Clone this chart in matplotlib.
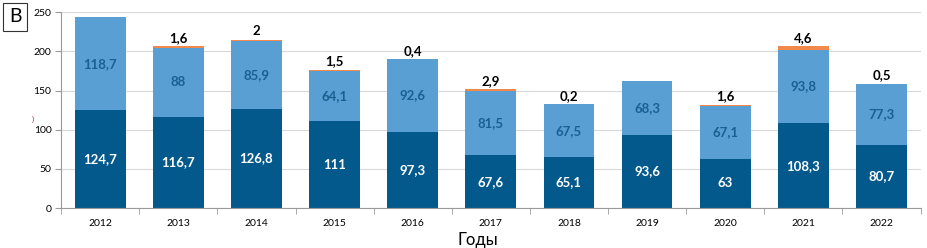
import numpy as np
import matplotlib
matplotlib.use('Agg')
import matplotlib.pyplot as plt
from matplotlib.ticker import FixedLocator

plt.rcParams['font.family'] = ['Lato', 'DejaVu Sans']

years = ['2012', '2013', '2014', '2015', '2016', '2017', '2018', '2019', '2020', '2021', '2022']
bottom_vals = [124.7, 116.7, 126.8, 111, 97.3, 67.6, 65.1, 93.6, 63, 108.3, 80.7]
middle_vals = [118.7, 88, 85.9, 64.1, 92.6, 81.5, 67.5, 68.3, 67.1, 93.8, 77.3]
top_vals = [0, 1.6, 2, 1.5, 0.4, 2.9, 0.2, 0, 1.6, 4.6, 0.5]
top_labels = ['', '1,6', '2', '1,5', '0,4', '2,9', '0,2', '', '1,6', '4,6', '0,5']

C_DARK = '#04598c'
C_LIGHT = '#5a9fd4'
C_ORANGE = '#f0894b'

def fmt(v):
    return ('%g' % v).replace('.', ',')

fig = plt.figure(figsize=(9.27, 2.48), dpi=100)
ax = fig.add_axes([0.066, 0.161, 0.927, 0.790])

x = np.arange(len(years))
w = 0.65
bot = np.array(bottom_vals)
mid = np.array(middle_vals)
top = np.array(top_vals)

ax.bar(x, bot, w, color=C_DARK, zorder=2)
ax.bar(x, mid, w, bottom=bot, color=C_LIGHT, zorder=2)
ax.bar(x, top, w, bottom=bot + mid, color=C_ORANGE, zorder=2)

for i in range(len(years)):
    ax.text(x[i], bot[i] / 2, fmt(bot[i]), ha='center', va='center',
            color='white', fontsize=9.5, fontweight='bold', zorder=3)
    ax.text(x[i], bot[i] + mid[i] / 2, fmt(mid[i]), ha='center', va='center',
            color='#1c5f91', fontsize=9.5, fontweight='bold', zorder=3)
    if top_labels[i]:
        ax.text(x[i], bot[i] + mid[i] + top[i] + 3, top_labels[i], ha='center',
                va='bottom', color='black', fontsize=9.5, fontweight='bold', zorder=3)

ax.set_xlim(-0.5, len(years) - 0.5)
ax.set_ylim(0, 250)
ax.set_yticks([0, 50, 100, 150, 200, 250])
ax.set_xticks(x)
ax.set_xticklabels(years)
ax.xaxis.set_minor_locator(FixedLocator(np.arange(-0.5, len(years), 1.0)))
ax.tick_params(axis='x', which='major', length=0, labelsize=7.5, pad=8)
ax.tick_params(axis='x', which='minor', length=4, color='#999999', direction='out')
ax.tick_params(axis='y', length=4, color='#999999', labelsize=7.5, pad=3)
ax.grid(axis='y', color='#d9d9d9', linewidth=0.8, zorder=0)
for s in ['top', 'right']:
    ax.spines[s].set_visible(False)
for s in ['left', 'bottom']:
    ax.spines[s].set_color('#999999')
    ax.spines[s].set_linewidth(0.8)

fig.text(0.515, 0.0, 'Годы', ha='center', va='bottom', fontsize=12)
fig.text(0.0165, 0.932, 'B', ha='center', va='center', fontsize=14,
         bbox=dict(boxstyle='square,pad=0.3', facecolor='white', edgecolor='#333333', linewidth=0.8))
fig.text(0.035, 0.52, ')', ha='center', va='center', fontsize=6, color='#c0304a')

fig.savefig('out.png', dpi=100)
